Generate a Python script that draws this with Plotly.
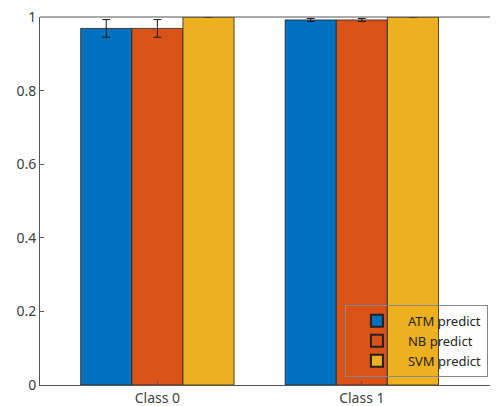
import plotly.graph_objects as go

categories = ["Class 0", "Class 1"]
series_names = ["ATM predict", "NB predict", "SVM predict"]
atm_values = [0.969, 0.992]
atm_errors = [0.024, 0.004]
nb_values = [0.969, 0.992]
nb_errors = [0.024, 0.004]
svm_values = [1.0, 1.0]
svm_errors = [0.0005, 0.0005]
y_ticks = [0, 0.2, 0.4, 0.6, 0.8, 1]

colors = ["#0072BD", "#D95319", "#EDB120"]
values = [atm_values, nb_values, svm_values]
errors = [atm_errors, nb_errors, svm_errors]

fig = go.Figure()
for name, vals, errs, col in zip(series_names, values, errors, colors):
    fig.add_trace(go.Bar(
        x=categories, y=vals, name=name,
        marker=dict(color=col, line=dict(color="#222222", width=0.8)),
        error_y=dict(type="data", array=errs, visible=True, color="#1a1a1a",
                     thickness=1, width=4),
    ))

font = "Noto Sans, Open Sans, DejaVu Sans, sans-serif"
fig.update_layout(
    width=490, height=398,
    margin=dict(l=32, r=0, t=9, b=21, autoexpand=False),
    paper_bgcolor="white", plot_bgcolor="white",
    barmode="group", bargap=0.25, bargroupgap=0,
    font=dict(family=font, size=14, color="#404040"),
    showlegend=True,
    legend=dict(x=0.978, y=0.022, xanchor="right", yanchor="bottom",
                bgcolor="rgba(0,0,0,0)", bordercolor="#888888", borderwidth=1,
                font=dict(family=font, size=13, color="#262626"),
                tracegroupgap=0, itemsizing="constant", itemwidth=52),
    xaxis=dict(range=[-0.574, 1.666], showline=True, linecolor="#555555",
               linewidth=1, ticks="inside", ticklen=4, tickcolor="#555555",
               showgrid=False, zeroline=False, tickfont=dict(size=14),
               automargin=False, ticklabeloverflow="allow"),
    yaxis=dict(range=[0, 1], tickvals=y_ticks, showline=True, linecolor="#555555",
               linewidth=1, ticks="inside", ticklen=4, tickcolor="#555555",
               showgrid=False, zeroline=False, tickfont=dict(size=14),
               automargin=False, ticklabeloverflow="allow"),
    shapes=[dict(type="line", xref="paper", yref="paper", x0=0, x1=1, y0=1, y1=1,
                 line=dict(color="#555555", width=1))],
)

fig.write_html("out.html")
